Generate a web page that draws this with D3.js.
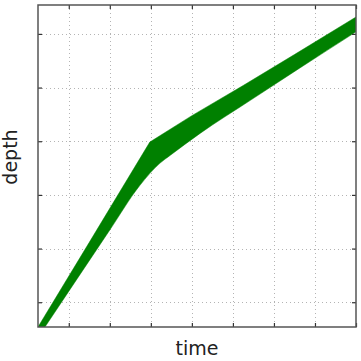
<!DOCTYPE html>
<html>
<head>
<meta charset="utf-8">
<script src="https://cdn.jsdelivr.net/npm/d3@7/dist/d3.min.js"></script>
<style>
  body { margin: 0; background: #fff; }
  svg { display: block; }
</style>
</head>
<body>
<div id="chart"></div>
<script>
// grid positions (no labels shown in the original)
const timeTicks = [3, 7, 11, 15, 19, 23, 27, 31];
const depthTicks = [6, 19, 32, 45, 58, 71];

// upper / left edge of the band
const upperTime  = [0, 5, 10.9, 15, 20, 25, 31];
const upperDepth = [0, 20.5, 44.8, 51.2, 58.5, 66.0, 75.1];

// lower / right edge of the band
const lowerTime  = [0.68, 7.0, 9.9, 11.9, 12.9, 15.8, 20.7, 25.5, 31];
const lowerDepth = [0, 23.5, 34.2, 39.7, 41.6, 46.9, 54.9, 62.7, 71.5];

const width = 361, height = 361;
const pLeft = 38, pRight = 356, pTop = 5, pBottom = 327;

const svg = d3.select("#chart").append("svg")
  .attr("width", width)
  .attr("height", height);

const x = d3.scaleLinear().domain([0, 31]).range([pLeft, pRight]);
const y = d3.scaleLinear().domain([0, 78]).range([pBottom, pTop]);

svg.append("defs").append("clipPath").attr("id", "plot")
  .append("rect")
  .attr("x", pLeft).attr("y", pTop)
  .attr("width", pRight - pLeft).attr("height", pBottom - pTop);

// dotted grid
const grid = svg.append("g")
  .attr("stroke", "#b4b4b4")
  .attr("stroke-width", 1)
  .attr("stroke-dasharray", "1,3");

grid.selectAll("line.v")
  .data(timeTicks.filter(t => t < 31))
  .enter().append("line")
  .attr("class", "v")
  .attr("x1", d => Math.round(x(d)) + 0.5)
  .attr("x2", d => Math.round(x(d)) + 0.5)
  .attr("y1", pTop).attr("y2", pBottom);

grid.selectAll("line.h")
  .data(depthTicks)
  .enter().append("line")
  .attr("class", "h")
  .attr("y1", d => Math.round(y(d)) + 0.5)
  .attr("y2", d => Math.round(y(d)) + 0.5)
  .attr("x1", pLeft).attr("x2", pRight);

// band: lower edge smooth, upper edge straight segments
const lowerPts = lowerTime.map((t, i) => [t, lowerDepth[i]]);
const upperPts = upperTime.map((t, i) => [t, upperDepth[i]]).reverse();

const lowerLine = d3.line()
  .x(d => x(d[0]))
  .y(d => y(d[1]))
  .curve(d3.curveMonotoneX);
const upperLine = d3.line()
  .x(d => x(d[0]))
  .y(d => y(d[1]));

svg.append("path")
  .attr("clip-path", "url(#plot)")
  .attr("d", lowerLine(lowerPts) + upperLine(upperPts).replace(/^M/, "L") + "Z")
  .attr("fill", "#008000")
  .attr("stroke", "#008000")
  .attr("stroke-width", 0.5);

// axes with inner ticks, no labels
const tl = 4;
svg.append("g")
  .attr("transform", `translate(0,${pBottom})`)
  .call(d3.axisBottom(x).tickValues(timeTicks).tickSizeInner(-tl).tickSizeOuter(0).tickFormat(""));
svg.append("g")
  .attr("transform", `translate(0,${pTop})`)
  .call(d3.axisTop(x).tickValues(timeTicks).tickSizeInner(-tl).tickSizeOuter(0).tickFormat(""));
svg.append("g")
  .attr("transform", `translate(${pLeft},0)`)
  .call(d3.axisLeft(y).tickValues(depthTicks).tickSizeInner(-tl).tickSizeOuter(0).tickFormat(""));
svg.append("g")
  .attr("transform", `translate(${pRight},0)`)
  .call(d3.axisRight(y).tickValues(depthTicks).tickSizeInner(-tl).tickSizeOuter(0).tickFormat(""));

svg.selectAll(".domain").remove();
svg.selectAll(".tick line").attr("stroke", "#333").attr("stroke-width", 1.2);

svg.append("rect")
  .attr("x", pLeft).attr("y", pTop)
  .attr("width", pRight - pLeft).attr("height", pBottom - pTop)
  .attr("fill", "none")
  .attr("stroke", "#555")
  .attr("stroke-width", 1.5);

// axis titles
svg.append("text")
  .attr("x", (pLeft + pRight) / 2)
  .attr("y", 355)
  .attr("text-anchor", "middle")
  .attr("font-family", "DejaVu Sans, sans-serif")
  .attr("font-size", 19)
  .attr("fill", "#222")
  .text("time");

svg.append("text")
  .attr("transform", "translate(17,157) rotate(-90)")
  .attr("text-anchor", "middle")
  .attr("font-family", "DejaVu Sans, sans-serif")
  .attr("font-size", 19)
  .attr("fill", "#222")
  .text("depth");
</script>
</body>
</html>
